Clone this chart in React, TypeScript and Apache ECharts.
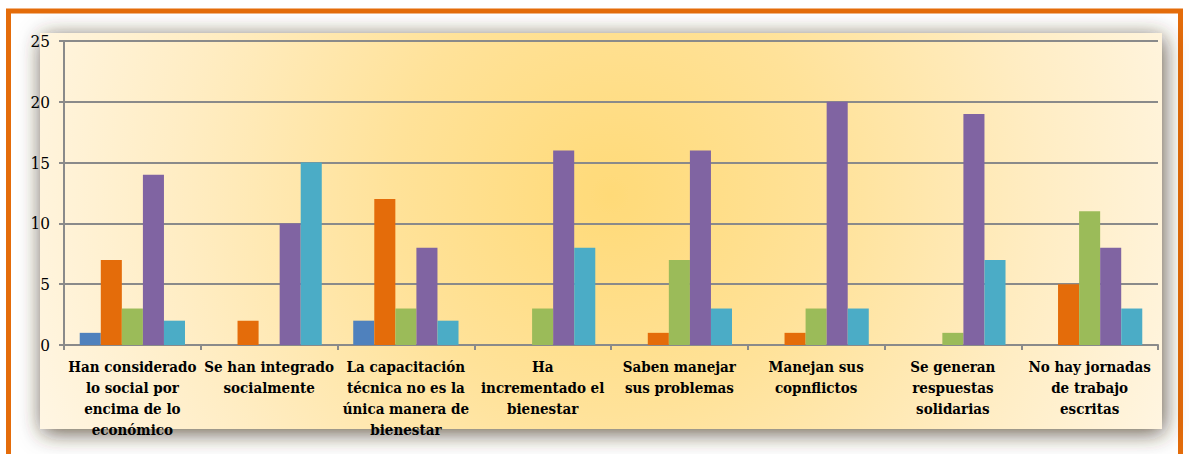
import React, { useEffect, useRef } from "react";
import * as echarts from "echarts";

const categories = [
  "Han considerado\nlo social por\nencima de lo\neconómico",
  "Se han integrado\nsocialmente",
  "La capacitación\ntécnica no es la\núnica manera de\nbienestar",
  "Ha\nincrementado el\nbienestar",
  "Saben manejar\nsus problemas",
  "Manejan sus\ncopnflictos",
  "Se generan\nrespuestas\nsolidarias",
  "No hay jornadas\nde trabajo\nescritas",
];

const serie1 = [1, 0, 2, 0, 0, 0, 0, 0];
const serie2 = [7, 2, 12, 0, 1, 1, 0, 5];
const serie3 = [3, 0, 3, 3, 7, 3, 1, 11];
const serie4 = [14, 10, 8, 16, 16, 20, 19, 8];
const serie5 = [2, 15, 2, 8, 3, 3, 7, 3];

const seriesList = [
  { name: "Serie 1", data: serie1, color: "#4F81BD" },
  { name: "Serie 2", data: serie2, color: "#E46C0A" },
  { name: "Serie 3", data: serie3, color: "#9BBB59" },
  { name: "Serie 4", data: serie4, color: "#8064A2" },
  { name: "Serie 5", data: serie5, color: "#4BACC6" },
];

const yTicks = { min: 0, max: 25, interval: 5 };

const SERIF_COND = "'DejaVu Serif Condensed', 'DejaVu Serif'";

export default function App() {
  const ref = useRef<HTMLDivElement>(null);

  useEffect(() => {
    document.body.style.margin = "0";
    if (!ref.current) return;
    const chart = echarts.init(ref.current, null, { renderer: "svg" });
    const gray = "#8a8a8a";
    chart.setOption({
      animation: false,
      backgroundColor: "#ffffff",
      textStyle: { fontFamily: "DejaVu Serif" },
      graphic: [
        {
          type: "rect",
          z: -100,
          silent: true,
          shape: { x: 8.5, y: 11, width: 1172, height: 470 },
          style: { fill: "#ffffff", stroke: "#E46C0A", lineWidth: 5 },
        },
        {
          type: "rect",
          z: -99,
          silent: true,
          shape: { x: 40, y: 33, width: 1122, height: 396 },
          style: {
            fill: {
              type: "radial",
              global: true,
              x: 610,
              y: 195,
              r: 620,
              colorStops: [
                { offset: 0, color: "#FFDA78" },
                { offset: 0.35, color: "#FFE299" },
                { offset: 0.7, color: "#FFEDC4" },
                { offset: 1, color: "#FFF6E4" },
              ],
            },
            shadowBlur: 22,
            shadowColor: "rgba(60,50,30,0.8)",
            shadowOffsetX: 2,
            shadowOffsetY: 4,
          },
        },
      ],
      grid: { left: 64, right: 31, top: 41, bottom: 109, containLabel: false },
      xAxis: {
        type: "category",
        data: categories,
        axisLine: { lineStyle: { color: gray, width: 2 } },
        axisTick: { show: true, length: 5, lineStyle: { color: gray, width: 2 } },
        axisLabel: {
          interval: 0,
          margin: 11,
          color: "#000",
          fontFamily: SERIF_COND,
          fontWeight: 700,
          fontSize: 15,
          lineHeight: 21,
          align: "center",
        },
      },
      yAxis: {
        type: "value",
        min: yTicks.min,
        max: yTicks.max,
        interval: yTicks.interval,
        axisLine: { show: true, lineStyle: { color: gray, width: 2 } },
        axisTick: { show: true, length: 5, lineStyle: { color: gray, width: 2 } },
        splitLine: { show: true, lineStyle: { color: gray, width: 2 } },
        axisLabel: {
          margin: 14,
          color: "#000",
          fontFamily: SERIF_COND,
          fontSize: 17,
        },
      },
      series: seriesList.map((s) => ({
        type: "bar",
        name: s.name,
        data: s.data,
        barGap: "0%",
        barCategoryGap: "23%",
        itemStyle: { color: s.color },
      })),
    });
    return () => chart.dispose();
  }, []);

  return <div ref={ref} style={{ width: 1189, height: 454 }} />;
}
